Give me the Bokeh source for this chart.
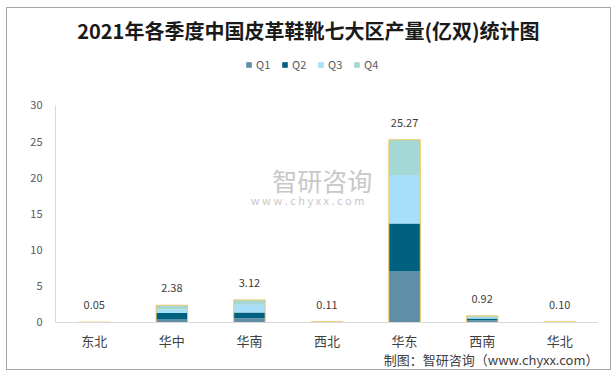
from bokeh.plotting import figure
from bokeh.models import (ColumnDataSource, LabelSet, Legend, LegendItem, Label,
                          FixedTicker, Range1d, Span)
from bokeh.core.properties import value
from bokeh.embed import file_html
from bokeh.resources import INLINE

# ---- data ----
regions = ["东北", "华中", "华南", "西北", "华东", "西南", "华北"]
q1 = [0.02, 0.40, 0.60, 0.03, 7.05, 0.30, 0.03]
q2 = [0.01, 0.90, 0.78, 0.03, 6.65, 0.25, 0.03]
q3 = [0.01, 0.50, 1.07, 0.03, 6.70, 0.22, 0.02]
q4 = [0.01, 0.58, 0.67, 0.02, 4.87, 0.15, 0.02]
totals = [0.05, 2.38, 3.12, 0.11, 25.27, 0.92, 0.10]
series = ["Q1", "Q2", "Q3", "Q4"]
y_ticks = [0, 5, 10, 15, 20, 25, 30]

title_text = "2021年各季度中国皮革鞋靴七大区产量(亿双)统计图"
footer_text = "制图：智研咨询（www.chyxx.com）"

colors = ["#5E8FA7", "#00607F", "#A6DFF7", "#A3D8D5"]
gold = "#F2C865"
FONT = "Noto Sans CJK SC"

source = ColumnDataSource(dict(region=regions, Q1=q1, Q2=q2, Q3=q3, Q4=q4,
                               total=totals,
                               label=["%.2f" % t for t in totals]))

p = figure(x_range=regions, y_range=Range1d(-6.50, 43.41), width=603, height=361,
           output_backend="svg", toolbar_location=None, x_axis_location=None,
           min_border_left=48, min_border_right=12,
           min_border_top=0, min_border_bottom=0)
p.styles = {"outline": "1px solid #a6a6a6", "width": "603px", "height": "361px",
            "overflow": "hidden",
            "margin-left": "7px", "margin-top": "8px"}
p.outline_line_color = None
p.xgrid.visible = False
p.ygrid.visible = False
p.background_fill_color = "white"
p.border_fill_color = "white"

rs = p.vbar_stack(series, x="region", width=0.406, color=colors,
                  line_color=None, source=source)
p.vbar(x="region", top="total", width=0.406, fill_color=None,
       line_color=gold, line_width=1, source=source)

# category axis line at zero + category labels
p.add_layout(Span(location=0, dimension="width", line_color="#d9d9d9",
                  line_width=1))
cats = LabelSet(x="region", y=0, text="region", source=source,
                y_offset=-18, text_align="center", text_baseline="middle",
                text_font_size="13px", text_color="#404040",
                text_font=value(FONT))
p.add_layout(cats)

labels = LabelSet(x="region", y="total", text="label", source=source,
                  y_offset=17, text_align="center", text_baseline="middle",
                  text_font_size="11px", text_color="#404040",
                  text_font=value(FONT))
p.add_layout(labels)

# y axis
yax = p.yaxis[0]
yax.ticker = FixedTicker(ticks=y_ticks)
yax.bounds = (0, 30)
yax.axis_line_color = "#d9d9d9"
yax.major_tick_line_color = None
yax.minor_tick_line_color = None
yax.major_tick_out = 0
yax.major_tick_in = 0
yax.minor_tick_out = 0
yax.major_label_text_font_size = "11px"
yax.major_label_text_color = "#595959"
yax.major_label_text_font = FONT
yax.major_label_standoff = 13

# title
p.add_layout(Label(x=3.26, y=40.37, text=title_text, text_align="center",
                   text_baseline="middle", text_font_size="20px",
                   text_font_style="bold", text_color="#1a1a1a",
                   text_font=FONT))

# watermark
p.add_layout(Label(x=3.44, y=19.7, text="智研咨询", text_align="center",
                   text_baseline="middle", text_font_size="25px",
                   text_color="#c8c8c8", text_font=FONT))
p.add_layout(Label(x=3.25, y=17.0, text="w w w . c h y x x . c o m",
                   text_align="center", text_baseline="middle",
                   text_font_size="11px", text_color="#c8c8c8",
                   text_font=FONT))

# footer
p.add_layout(Label(x=7.0, y=-5.12, text=footer_text, text_align="right",
                   text_baseline="middle", text_font_size="13px",
                   text_color="#404040", text_font=FONT))

legend = Legend(items=[LegendItem(label=s, renderers=[r]) for s, r in zip(series, rs)],
                orientation="horizontal", location=(190, 297),
                border_line_color=None, background_fill_alpha=0,
                label_text_font_size="11px", label_text_color="#595959",
                label_text_font=FONT, glyph_width=7, glyph_height=7,
                label_standoff=4, spacing=5, padding=0, margin=0)
p.add_layout(legend)

open("out.html", "w").write(file_html(p, INLINE))
